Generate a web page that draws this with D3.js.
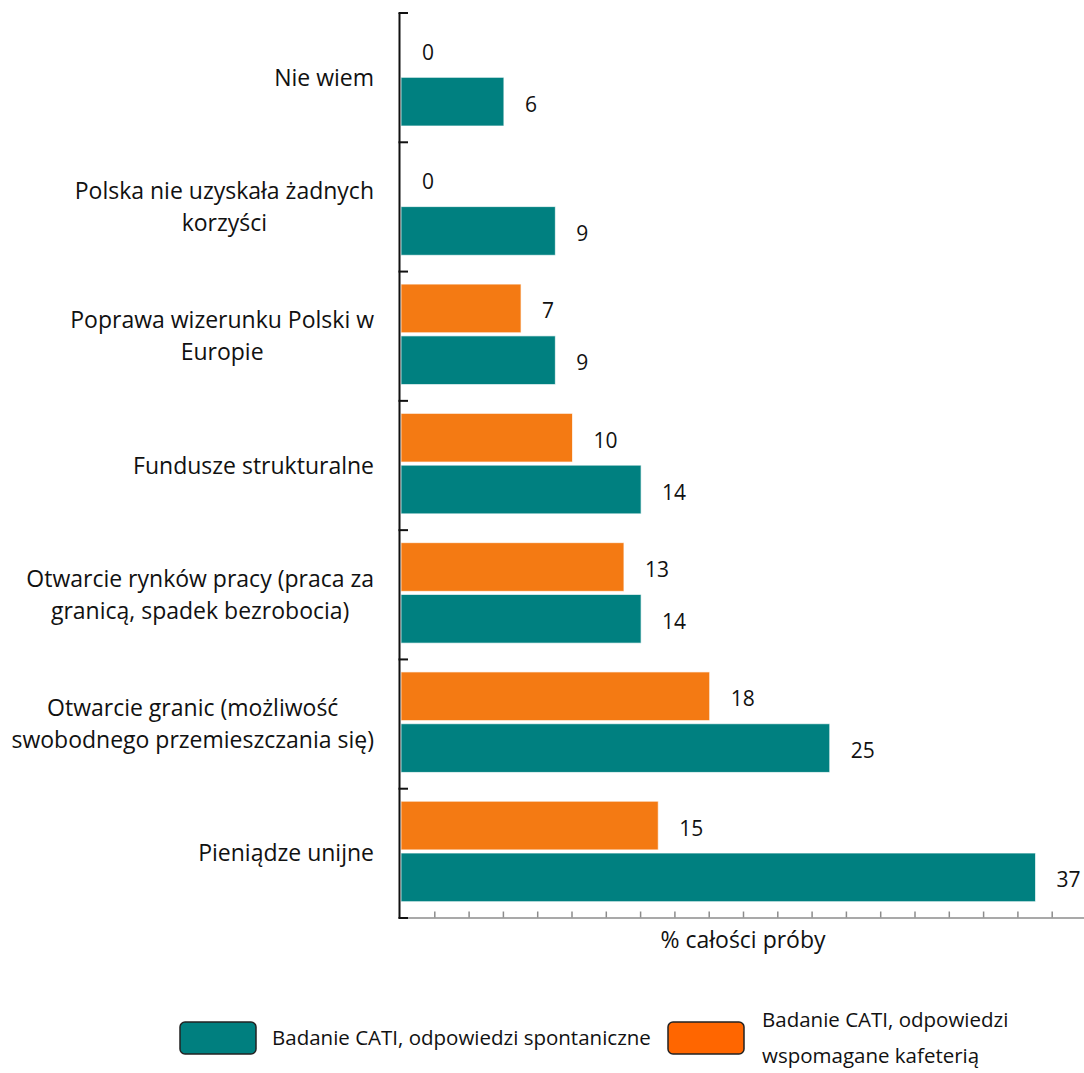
<!DOCTYPE html>
<html>
<head>
<meta charset="utf-8">
<script src="https://cdn.jsdelivr.net/npm/d3@7"></script>
<style>
  html, body { margin: 0; padding: 0; background: #fff; }
  svg { display: block; }
  text { font-family: "Open Sans", "Noto Sans", sans-serif; fill: #111; }
</style>
</head>
<body>
<svg id="chart" width="1084" height="1073"></svg>
<script>
// Answer categories, top to bottom
const categories = [
  "Nie wiem",
  "Polska nie uzyskała żadnych korzyści",
  "Poprawa wizerunku Polski w Europie",
  "Fundusze strukturalne",
  "Otwarcie rynków pracy (praca za granicą, spadek bezrobocia)",
  "Otwarcie granic (możliwość swobodnego przemieszczania się)",
  "Pieniądze unijne"
];
// Line breaks used for the category labels
const categoryLines = [
  ["Nie wiem"],
  ["Polska nie uzyskała żadnych", "korzyści"],
  ["Poprawa wizerunku Polski w", "Europie"],
  ["Fundusze strukturalne"],
  ["Otwarcie rynków pracy (praca za", "granicą, spadek bezrobocia)"],
  ["Otwarcie granic (możliwość", "swobodnego przemieszczania się)"],
  ["Pieniądze unijne"]
];
// % of the whole sample
const aided = [0, 0, 7, 10, 13, 18, 15];        // CATI, answers aided by a list
const spontaneous = [6, 9, 9, 14, 14, 25, 37];  // CATI, spontaneous answers

const seriesKeys = ["aided", "spontaneous"];
const barColors = { aided: "#F47A13", spontaneous: "#008080" };
const legendColors = { spontaneous: "#007F7F", aided: "#FF6600" };
const xTicks = d3.range(2, 41, 2);
const axisTitle = "% całości próby";

const svg = d3.select("#chart");

const x = d3.scaleLinear().domain([0, 40]).range([400, 1086]);
const y = d3.scaleBand().domain(categories).range([13, 918]);
const ySub = d3.scaleBand().domain(seriesKeys)
  .range([12.5, 113]).paddingInner(0.06);

const rows = categories.map((c, i) => ({
  cat: c, lines: categoryLines[i],
  aided: aided[i], spontaneous: spontaneous[i]
}));

// Bars
const groups = svg.append("g").selectAll("g")
  .data(rows).join("g")
  .attr("transform", d => `translate(0,${y(d.cat)})`);

groups.selectAll("rect")
  .data(d => seriesKeys.filter(k => d[k] > 0).map(k => ({ key: k, value: d[k] })))
  .join("rect")
  .attr("x", x(0) + 1)
  .attr("y", d => ySub(d.key))
  .attr("width", d => x(d.value) - x(0))
  .attr("height", ySub.bandwidth())
  .attr("fill", d => barColors[d.key])
  .attr("stroke", "rgba(255,255,255,0.7)")
  .attr("stroke-width", 1);

// Value labels (zero values too)
groups.selectAll("text.val")
  .data(d => seriesKeys.map(k => ({ key: k, value: d[k] })))
  .join("text")
  .attr("class", "val")
  .attr("x", d => x(d.value) + 22)
  .attr("y", d => ySub(d.key) + ySub.bandwidth() / 2)
  .attr("dy", "0.48em")
  .attr("font-size", 21)
  .text(d => d.value);

// X axis: grey baseline with small upward ticks
const xAxis = svg.append("g")
  .attr("transform", `translate(0,917.5)`)
  .call(d3.axisBottom(x).tickValues(xTicks).tickSizeInner(-6).tickSizeOuter(0).tickFormat(""));
xAxis.select(".domain").attr("stroke", "#8c8c8c").attr("stroke-width", 1.5);
xAxis.selectAll(".tick line").attr("stroke", "#8c8c8c").attr("stroke-width", 1.5);

// Y axis: black line with category separators
const yAxisG = svg.append("g");
yAxisG.append("line")
  .attr("x1", x(0) - 0.5).attr("x2", x(0) - 0.5)
  .attr("y1", 13).attr("y2", 918.5)
  .attr("stroke", "#111").attr("stroke-width", 2);
const sepYs = categories.map(c => y(c)).concat([y.range()[1]]);
yAxisG.selectAll("line.sep")
  .data(sepYs).join("line")
  .attr("class", "sep")
  .attr("x1", x(0) - 1.5).attr("x2", x(0) + 8)
  .attr("y1", d => d).attr("y2", d => d)
  .attr("stroke", "#111").attr("stroke-width", 2);

// Category labels: block right-aligned, lines centred within the block
const labelRight = 374;
const lineH = 32;
rows.forEach(r => {
  const g = svg.append("g");
  const cy = y(r.cat) + y.bandwidth() / 2;
  const n = r.lines.length;
  const texts = r.lines.map((ln, j) => g.append("text")
    .attr("y", cy + (j - (n - 1) / 2) * lineH)
    .attr("dy", "0.35em")
    .attr("font-size", 23)
    .attr("text-anchor", "middle")
    .text(ln));
  const maxW = d3.max(texts, t => t.node().getComputedTextLength());
  texts.forEach(t => t.attr("x", labelRight - maxW / 2));
});

// Axis title
svg.append("text")
  .attr("x", (x.range()[0] + x.range()[1]) / 2)
  .attr("y", 948)
  .attr("text-anchor", "middle")
  .attr("font-size", 23)
  .text(axisTitle);

// Legend
const legend = svg.append("g");
const legendItems = [
  { key: "spontaneous", bx: 180, tx: 272, lines: ["Badanie CATI, odpowiedzi spontaniczne"] },
  { key: "aided", bx: 668, tx: 762, lines: ["Badanie CATI, odpowiedzi", "wspomagane kafeterią"] }
];
legendItems.forEach(it => {
  legend.append("rect")
    .attr("x", it.bx).attr("y", 1022)
    .attr("width", 76).attr("height", 32)
    .attr("rx", 5)
    .attr("fill", legendColors[it.key])
    .attr("stroke", "#222").attr("stroke-width", 1.5);
  const n = it.lines.length;
  it.lines.forEach((ln, j) => {
    legend.append("text")
      .attr("x", it.tx)
      .attr("y", 1038 + (j - (n - 1) / 2) * 36)
      .attr("dy", "0.35em")
      .attr("font-size", 20.5)
      .text(ln);
  });
});
</script>
</body>
</html>
